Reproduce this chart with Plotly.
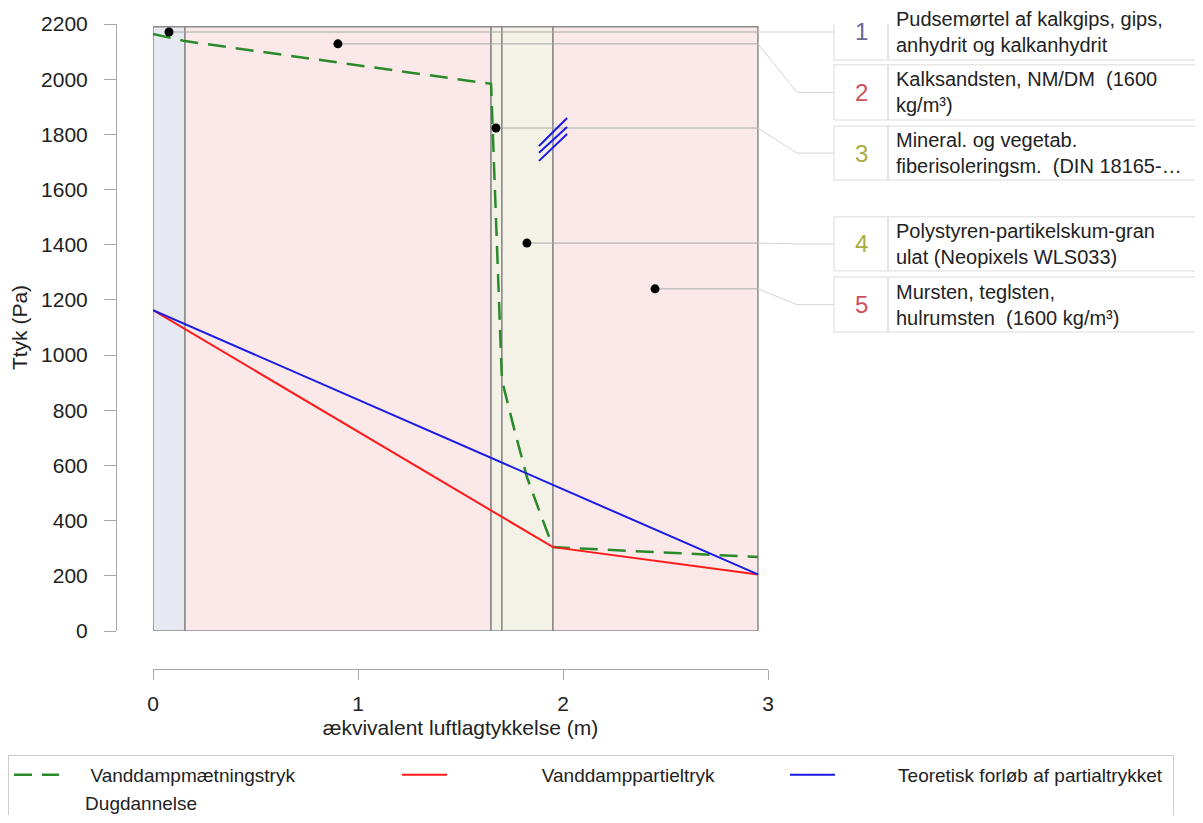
import plotly.graph_objects as go

# ---------------- data ----------------
layer_bounds = [0, 0.156, 1.649, 1.702, 1.951, 2.951]
layer_colors = ["#e7e9f1", "#fbe9e9", "#f4f2e6", "#f4f2e6", "#fbe9e9"]
layer_top = 2190

sat_x = [0, 0.156, 1.649, 1.702, 1.763, 1.824, 1.888, 1.951, 2.951]
sat_y = [2164, 2138, 1983, 910, 729, 558, 428, 304, 268]

part_x = [0, 1.951, 2.951]
part_y = [1163, 304, 205]

theo_x = [0, 2.951]
theo_y = [1163, 205]

dot_x = [0.078, 0.902, 1.673, 1.824, 2.449]
dot_y = [2171, 2128, 1823, 1406, 1240]

hatch_x = [1.883, 2.020, None, 1.883, 2.020, None, 1.883, 2.020]
hatch_y = [1758, 1859, None, 1733, 1827, None, 1704, 1801]

label_nums = ["1", "2", "3", "4", "5"]
label_num_colors = ["#68689a", "#d0505a", "#a9ae3e", "#a9ae3e", "#d0505a"]
label_texts = [
    "Pudsemørtel af kalkgips, gips,<br>anhydrit og kalkanhydrit",
    "Kalksandsten, NM/DM \u00a0(1600<br>kg/m³)",
    "Mineral. og vegetab.<br>fiberisoleringsm. \u00a0(DIN 18165-…",
    "Polystyren-partikelskum-gran<br>ulat (Neopixels WLS033)",
    "Mursten, teglsten,<br>hulrumsten \u00a0(1600 kg/m³)",
]
label_y = [2171, 1952, 1732, 1403, 1183]
label_y0 = [2070, 1852, 1635, 1305, 1084]
label_y1 = [2273, 2052, 1830, 1501, 1283]

y_ticks = list(range(0, 2201, 200))
x_ticks = [0, 1, 2, 3]

names = ["Vanddampmætningstryk", "Vanddamppartieltryk",
         "Teoretisk forløb af partialtrykket", "Dugdannelse"]

FONT = "Liberation Sans, Arial, sans-serif"
NB = "\u00a0"
# the page body adds an 8px margin, so the figure is 16px smaller than the window
OFF = 8
W, H = 1203 - 2 * OFF, 823 - 2 * OFF


def px(v):
    return (v - OFF) / W


def py(v):
    return 1 - (v - OFF) / H


# ---------------- figure ----------------
fig = go.Figure()

fig.add_trace(go.Scatter(x=sat_x, y=sat_y, mode="lines", name=NB * 5 + names[0],
                         line=dict(color="#2a8a2a", width=2.5, dash="18px,10px")))
fig.add_trace(go.Scatter(x=part_x, y=part_y, mode="lines", name=NB * 17 + names[1],
                         line=dict(color="#ff1a1a", width=2)))
fig.add_trace(go.Scatter(x=theo_x, y=theo_y, mode="lines", name=NB * 11 + names[2],
                         line=dict(color="#1a1ae6", width=2)))
fig.add_trace(go.Scatter(x=[None], y=[None], mode="lines", name=NB * 4 + names[3],
                         line=dict(color="rgba(0,0,0,0)", width=2)))
fig.add_trace(go.Scatter(x=hatch_x, y=hatch_y, mode="lines", showlegend=False,
                         line=dict(color="#1a1ae6", width=2)))
fig.add_trace(go.Scatter(x=dot_x, y=dot_y, mode="markers", showlegend=False,
                         marker=dict(color="black", size=9)))

shapes = []
for i in range(len(layer_colors)):
    shapes.append(dict(type="rect", xref="x", yref="y", layer="below",
                       x0=layer_bounds[i], x1=layer_bounds[i + 1], y0=0, y1=layer_top,
                       fillcolor=layer_colors[i], line=dict(color="#8a8a8a", width=1.5)))

edge_p = px(758)
knee_p = px(797)
box_p = px(834)
div_p = px(888)
right_p = px(1215)

for i in range(len(dot_x)):
    shapes.append(dict(type="line", xref="x", yref="y", layer="below",
                       x0=dot_x[i], x1=layer_bounds[-1], y0=dot_y[i], y1=dot_y[i],
                       line=dict(color="#a8a8a8", width=1)))
    shapes.append(dict(type="line", xref="paper", yref="y", layer="above",
                       x0=edge_p, x1=knee_p, y0=dot_y[i], y1=label_y[i],
                       line=dict(color="#d4d4d4", width=1)))
    shapes.append(dict(type="line", xref="paper", yref="y", layer="above",
                       x0=knee_p, x1=box_p, y0=label_y[i], y1=label_y[i],
                       line=dict(color="#d4d4d4", width=1)))

annotations = []
for i in range(len(label_nums)):
    shapes.append(dict(type="rect", xref="paper", yref="y", layer="above",
                       x0=box_p, x1=div_p, y0=label_y0[i], y1=label_y1[i],
                       line=dict(color="#dcdcdc", width=1), fillcolor="rgba(0,0,0,0)"))
    shapes.append(dict(type="rect", xref="paper", yref="y", layer="above",
                       x0=div_p, x1=right_p, y0=label_y0[i], y1=label_y1[i],
                       line=dict(color="#dcdcdc", width=1), fillcolor="rgba(0,0,0,0)"))
    annotations.append(dict(xref="paper", yref="y", x=(box_p + div_p) / 2, y=label_y[i],
                            xanchor="center", yanchor="middle", showarrow=False,
                            text=label_nums[i],
                            font=dict(family=FONT, size=24, color=label_num_colors[i])))
    annotations.append(dict(xref="paper", yref="y", x=px(894), y=label_y[i],
                            xanchor="left", yanchor="middle", showarrow=False,
                            text=label_texts[i], align="left",
                            font=dict(family=FONT, size=20, color="#222222")))

fig.update_layout(
    width=W, height=H,
    margin=dict(l=0, r=0, t=0, b=0, autoexpand=False),
    paper_bgcolor="white", plot_bgcolor="rgba(0,0,0,0)",
    font=dict(family=FONT, size=21, color="#222222"),
    showlegend=True,
    legend=dict(orientation="h", x=0, y=py(755),
                xanchor="left", yanchor="top",
                entrywidth=328, entrywidthmode="pixels", itemwidth=45,
                font=dict(family=FONT, size=19, color="#222222"),
                bordercolor="#cccccc", borderwidth=1, bgcolor="white",
                traceorder="normal"),
    shapes=shapes,
    annotations=annotations,
    xaxis=dict(domain=[px(153), px(768)], range=[0, 3], anchor="free", position=py(669),
               automargin=False,
               showline=True, linecolor="#a8a8a8", linewidth=1,
               ticks="outside", ticklen=10, tickcolor="#a8a8a8",
               tickvals=x_ticks, showgrid=False, zeroline=False,
               ticklabelstandoff=6,
               tickfont=dict(family=FONT, size=21, color="#222222"),
               title=dict(text="ækvivalent luftlagtykkelse (m)", standoff=6,
                          font=dict(family=FONT, size=21, color="#222222"))),
    yaxis=dict(domain=[py(631), py(24)], range=[0, 2200], anchor="free", position=px(116),
               automargin=False,
               showline=True, linecolor="#a8a8a8", linewidth=1,
               ticks="outside", ticklen=12, tickcolor="#a8a8a8",
               tickvals=y_ticks, showgrid=False, zeroline=False,
               ticklabelstandoff=12,
               tickfont=dict(family=FONT, size=21, color="#222222"),
               title=dict(text="Ttyk (Pa)", standoff=12,
                          font=dict(family=FONT, size=21, color="#222222"))),
)

fig.write_html("out.html")
